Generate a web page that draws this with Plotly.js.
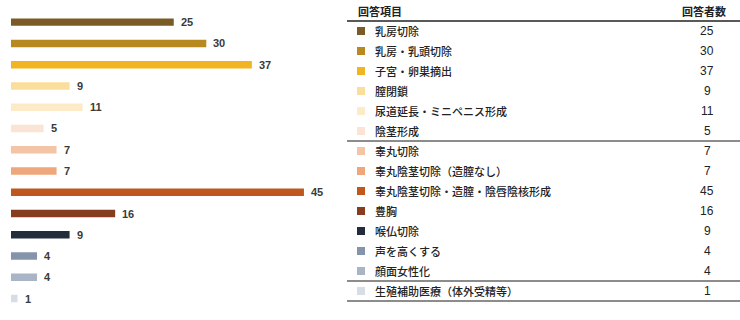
<!DOCTYPE html>
<html>
<head>
<meta charset="utf-8">
<script src="https://cdn.plot.ly/plotly-3.0.1.min.js"></script>
<style>html,body{margin:0;padding:0;background:#fff;}#chart{width:740px;height:320px;}</style>
</head>
<body>
<div id="chart"></div>
<script>
const items = ["乳房切除","乳房・乳頭切除","子宮・卵巣摘出","膣閉鎖","尿道延長・ミニペニス形成","陰茎形成","睾丸切除","睾丸陰茎切除（造膣なし）","睾丸陰茎切除・造膣・陰唇陰核形成","豊胸","喉仏切除","声を高くする","顔面女性化","生殖補助医療（体外受精等）"];
const counts = [25,30,37,9,11,5,7,7,45,16,9,4,4,1];
const colors = ["#7a5a25","#b8891e","#f0b520","#fadf9c","#fcebc6","#fbe3d6","#f3c4a5","#eda77a","#c0581e","#863c1e","#232c3a","#8593ab","#a9b4c6","#d8dce4"];
const headerLabels = ["回答項目","回答者数"];
const groupEnds = [5,12,13];

const rowIdx = items.map((_, i) => i);
const jp = "Noto Sans CJK JP, sans-serif";

const traces = [
  {
    type: "bar", orientation: "h",
    x: counts, y: items,
    marker: {color: colors},
    width: 0.35,
    hoverinfo: "none",
    xaxis: "x", yaxis: "y"
  },
  {
    type: "scatter", mode: "markers",
    x: items.map(() => 361), y: rowIdx,
    marker: {symbol: "square", size: 8, color: colors},
    hoverinfo: "none",
    xaxis: "x2", yaxis: "y2"
  }
];

const annotations = [];
counts.forEach((v, i) => {
  annotations.push({xref: "x", yref: "y", x: v, y: items[i], text: String(v), showarrow: false,
    xanchor: "left", xshift: 5, font: {family: "Liberation Sans, Arial", size: 11, color: "#3a3a3a", weight: 700}});
  annotations.push({xref: "x2", yref: "y2", x: 373, y: i, text: items[i], showarrow: false,
    xanchor: "left", font: {family: jp, size: 11, color: "#222", weight: 500}});
  annotations.push({xref: "x2", yref: "y2", x: 707, y: i, text: String(v), showarrow: false,
    xanchor: "center", font: {family: "Liberation Sans Narrow, Liberation Sans, Arial", size: 12, color: "#222"}});
});
annotations.push({xref: "x2", yref: "y2", x: 356, y: -1, text: headerLabels[0], showarrow: false,
  xanchor: "left", font: {family: jp, size: 11, color: "#222", weight: 700}});
annotations.push({xref: "x2", yref: "y2", x: 728, y: -1, text: headerLabels[1], showarrow: false,
  xanchor: "right", font: {family: jp, size: 11, color: "#222", weight: 700}});

const shapes = [{type: "line", xref: "x2", yref: "y2", x0: 347, x1: 740, y0: -0.5, y1: -0.5,
  line: {color: "#222", width: 1.5}}];
groupEnds.forEach(g => shapes.push({type: "line", xref: "x2", yref: "y2", x0: 347, x1: 740,
  y0: g + 0.5, y1: g + 0.5, line: {color: "#666", width: 1.5}}));

const layout = {
  width: 740, height: 320,
  margin: {l: 0, r: 0, t: 0, b: 0},
  paper_bgcolor: "#fff", plot_bgcolor: "rgba(0,0,0,0)",
  showlegend: false,
  xaxis: {domain: [11/740, 340/740], range: [0, 329/6.51], showgrid: false, zeroline: false,
    showticklabels: false, ticks: "", showline: false, fixedrange: true},
  yaxis: {domain: [0.03375, 0.964], autorange: "reversed", type: "category", showgrid: false,
    zeroline: false, showticklabels: false, ticks: "", showline: false, fixedrange: true},
  xaxis2: {domain: [0, 1], range: [0, 740], anchor: "y2", showgrid: false, zeroline: false,
    showticklabels: false, ticks: "", showline: false, fixedrange: true},
  yaxis2: {domain: [0, 1], range: [14.45, -1.55], anchor: "x2", showgrid: false, zeroline: false,
    showticklabels: false, ticks: "", showline: false, fixedrange: true},
  annotations: annotations,
  shapes: shapes
};

Plotly.newPlot("chart", traces, layout, {staticPlot: true, displayModeBar: false});
</script>
</body>
</html>
